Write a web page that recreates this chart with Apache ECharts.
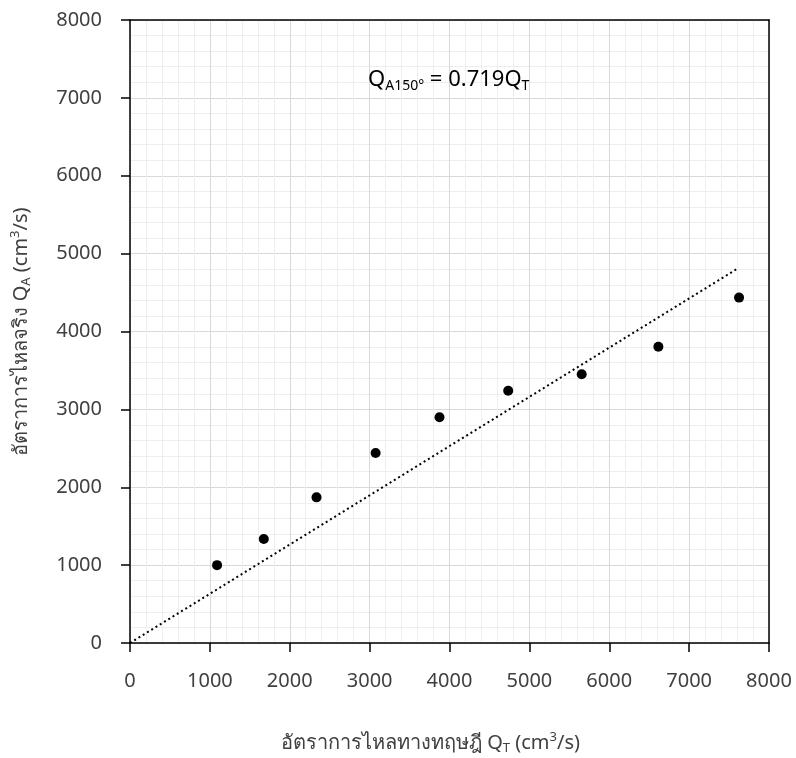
<!DOCTYPE html>
<html>
<head>
<meta charset="utf-8">
<script src="https://cdn.jsdelivr.net/npm/echarts@6/dist/echarts.min.js"></script>
<style>
  html, body { margin: 0; padding: 0; background: #fff; }
  #chart { width: 796px; height: 758px; }
</style>
</head>
<body>
<div id="chart"></div>
<script>
// Measured flow rates (cm^3/s)
const theoreticalQ = [1090, 1675, 2335, 3075, 3875, 4735, 5655, 6615, 7625];
const actualQ      = [1000, 1335, 1870, 2440, 2900, 3240, 3450, 3805, 4435];

// Trendline end points through the origin
const trendX = [0, 7610];
const trendY = [0, 4810];

const axisTicks = [0, 1000, 2000, 3000, 4000, 5000, 6000, 7000, 8000];

const FONT = 'Tahoma, "Noto Sans", "DejaVu Sans", sans-serif';
const TEXT_COLOR = '#404040';

const points = theoreticalQ.map((x, i) => [x, actualQ[i]]);
const trend = trendX.map((x, i) => [x, trendY[i]]);

const chart = echarts.init(document.getElementById('chart'), null, { renderer: 'canvas' });

const nameRich = {
  sub: { fontSize: 13, verticalAlign: 'bottom', padding: [11, 0, 0, 0], color: TEXT_COLOR, fontFamily: FONT },
  sup: { fontSize: 13, verticalAlign: 'top', padding: [0, 0, 9, 0], color: TEXT_COLOR, fontFamily: FONT }
};

const baseAxis = {
  type: 'value',
  min: axisTicks[0],
  max: axisTicks[axisTicks.length - 1],
  interval: axisTicks[1] - axisTicks[0],
  axisLine: { show: true, onZero: false, lineStyle: { color: '#000', width: 1.5 } },
  axisTick: { show: true, inside: false, length: 9, lineStyle: { color: '#000', width: 1.5 } },
  minorTick: { show: false, splitNumber: 5 },
  splitLine: { show: true, lineStyle: { color: '#d9d9d9', width: 1 } },
  minorSplitLine: { show: true, lineStyle: { color: '#eeeeee', width: 1 } },
  axisLabel: {
    color: TEXT_COLOR, fontSize: 20, fontFamily: FONT, margin: 28,
    formatter: v => String(v)
  },
  nameLocation: 'middle'
};

const frameAxis = {
  type: 'value',
  min: axisTicks[0],
  max: axisTicks[axisTicks.length - 1],
  axisLine: { show: true, onZero: false, lineStyle: { color: '#000', width: 1.5 } },
  axisTick: { show: false },
  axisLabel: { show: false },
  splitLine: { show: false }
};

chart.setOption({
  animation: false,
  backgroundColor: '#fff',
  grid: { left: 130, right: 27, top: 20, bottom: 115, containLabel: false, outerBoundsMode: 'none' },
  title: {
    left: 363,
    top: 61,
    text: 'Q{sub|A150°} = 0.719Q{sub|T}',
    textStyle: {
      color: '#000',
      fontSize: 22,
      fontWeight: 'normal',
      fontFamily: FONT,
      rich: {
        sub: { fontSize: 14, color: '#000', fontFamily: FONT, verticalAlign: 'bottom', padding: [13, 0, 0, 0] }
      }
    }
  },
  xAxis: [
    Object.assign({}, baseAxis, {
      position: 'bottom',
      name: 'อัตราการไหลทางทฤษฎี Q{sub|T} (cm{sup|3}/s)',
      nameGap: 88,
      nameTextStyle: { color: TEXT_COLOR, fontSize: 20, fontFamily: FONT, padding: [0, 38, 0, 0], rich: nameRich }
    }),
    Object.assign({}, frameAxis, { position: 'top' })
  ],
  yAxis: [
    Object.assign({}, baseAxis, {
      position: 'left',
      name: 'อัตราการไหลจริง Q{sub|A} (cm{sup|3}/s)',
      nameGap: 97,
      nameRotate: 90,
      nameTextStyle: { color: TEXT_COLOR, fontSize: 20, fontFamily: FONT, rich: nameRich }
    }),
    Object.assign({}, frameAxis, { position: 'right' })
  ],
  series: [
    {
      type: 'line',
      data: trend,
      xAxisIndex: 0, yAxisIndex: 0,
      symbol: 'none',
      silent: true,
      lineStyle: { color: '#000', width: 2, type: [2, 3] },
      z: 2
    },
    {
      type: 'scatter',
      data: points,
      xAxisIndex: 0, yAxisIndex: 0,
      symbol: 'circle',
      symbolSize: 10,
      itemStyle: { color: '#000', opacity: 1 },
      z: 3
    }
  ]
});
</script>
</body>
</html>
